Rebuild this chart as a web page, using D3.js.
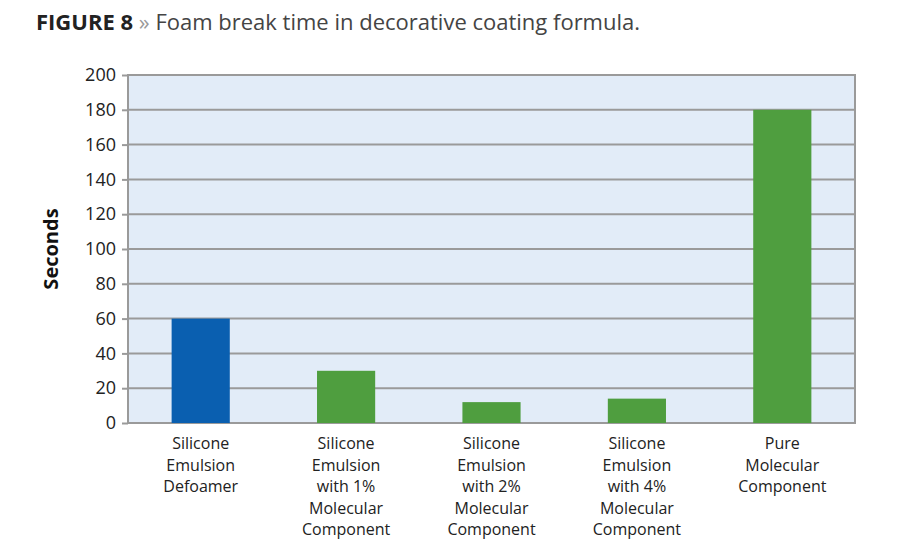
<!DOCTYPE html>
<html><head><meta charset="utf-8">
<script src="https://d3js.org/d3.v7.min.js"></script>
<style>body{margin:0;background:#fff;font-family:"Open Sans",sans-serif}</style>
</head><body><svg id="c" width="900" height="550"></svg>
<script>
const categories=[["Silicone","Emulsion","Defoamer"],["Silicone","Emulsion","with 1%","Molecular","Component"],["Silicone","Emulsion","with 2%","Molecular","Component"],["Silicone","Emulsion","with 4%","Molecular","Component"],["Pure","Molecular","Component"]];
const values=[60,30,12,14,180];
const colors=["#0a5fb0","#4f9e3f","#4f9e3f","#4f9e3f","#4f9e3f"];
const ticks=[0,20,40,60,80,100,120,140,160,180,200];
const svg=d3.select("#c");
const L=128,R=855,T=75,B=423;
const x=d3.scaleBand().domain(d3.range(values.length)).range([L,R]).paddingInner(0.6).paddingOuter(0.3);
const y=d3.scaleLinear().domain([0,200]).range([B,T]);
const t=svg.append("text").attr("x",36).attr("y",30).attr("font-size",22);
t.append("tspan").text("FIGURE 8 ").attr("font-weight","bold").attr("fill","#222");
t.append("tspan").text("» ").attr("fill","#999");
t.append("tspan").text("Foam break time in decorative coating formula.").attr("fill","#444");
svg.append("rect").attr("x",L).attr("y",T).attr("width",R-L).attr("height",B-T).attr("fill","#e2ecf8");
svg.selectAll("line.g").data(ticks).join("line").attr("x1",L).attr("x2",R).attr("y1",d=>y(d)).attr("y2",d=>y(d)).attr("stroke","#9a9a9a").attr("stroke-width",2);
svg.append("rect").attr("x",L).attr("y",T).attr("width",R-L).attr("height",B-T).attr("fill","none").attr("stroke","#9a9a9a").attr("stroke-width",2);
svg.selectAll("rect.b").data(values).join("rect").attr("x",(d,i)=>x(i)).attr("width",x.bandwidth()).attr("y",d=>y(d)).attr("height",d=>B-y(d)).attr("fill",(d,i)=>colors[i]);
const ax=svg.append("g").attr("transform",`translate(${L},0)`).call(d3.axisLeft(y).tickValues(ticks).tickSize(6).tickPadding(6));
ax.select(".domain").remove();
ax.selectAll("line").attr("stroke","#9a9a9a").attr("stroke-width",2);
ax.selectAll("text").attr("font-size",18).attr("fill","#222").attr("font-family","Open Sans");
categories.forEach((c,i)=>{
  const tx=svg.append("text").attr("text-anchor","middle").attr("font-size",16).attr("fill","#222");
  c.forEach((l,j)=>tx.append("tspan").attr("x",x(i)+x.bandwidth()/2).attr("y",449+j*21.5).text(l));
});
svg.append("text").attr("transform",`translate(58,${(T+B)/2}) rotate(-90)`).attr("text-anchor","middle").attr("font-size",20).attr("font-weight","bold").attr("fill","#111").text("Seconds");
</script></body></html>
